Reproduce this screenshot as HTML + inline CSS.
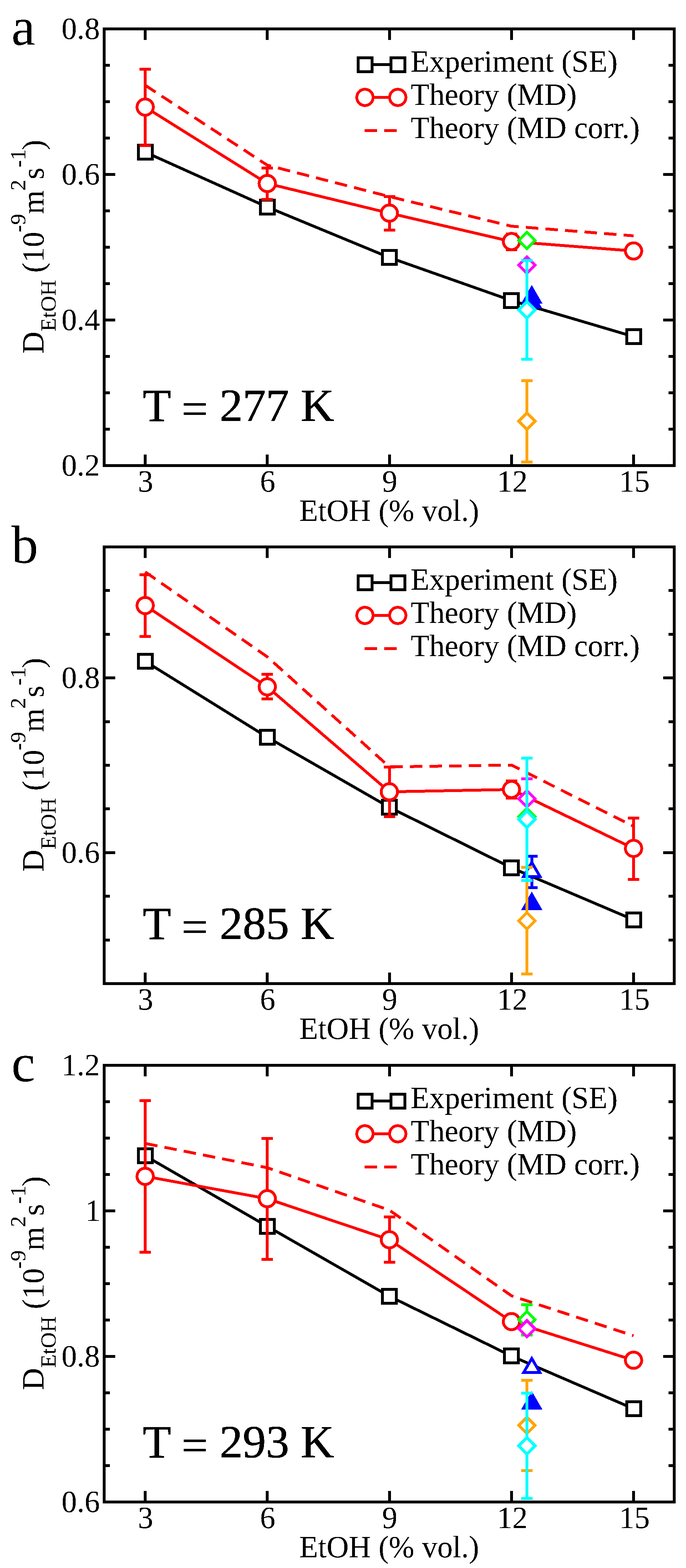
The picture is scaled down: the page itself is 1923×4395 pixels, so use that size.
<!DOCTYPE html>
<html><head><meta charset="utf-8"><title>EtOH diffusion</title>
<style>html,body{margin:0;padding:0;background:#fff;}svg{display:block;}</style>
</head><body>
<svg width="1923" height="4395" viewBox="0 0 1923 4395" font-family='"Liberation Serif", "DejaVu Serif", serif' shape-rendering="crispEdges">
<defs><filter id="bin" filterUnits="userSpaceOnUse" x="0" y="0" width="1923" height="4395"><feComponentTransfer><feFuncA type="discrete" tableValues="0 1"/></feComponentTransfer></filter></defs>
<rect width="1923" height="4395" fill="#fff"/>
<polyline points="407.0,426.4 749.2,580.3 1091.5,721.8 1433.8,842.4 1776.0,943.4" fill="none" stroke="#000" stroke-width="8" stroke-linejoin="round"/>
<rect x="387.5" y="406.9" width="39.0" height="39.0" fill="#fff" stroke="#000" stroke-width="8"/>
<rect x="729.8" y="560.8" width="39.0" height="39.0" fill="#fff" stroke="#000" stroke-width="8"/>
<rect x="1072.0" y="702.3" width="39.0" height="39.0" fill="#fff" stroke="#000" stroke-width="8"/>
<rect x="1414.2" y="822.9" width="39.0" height="39.0" fill="#fff" stroke="#000" stroke-width="8"/>
<rect x="1756.5" y="923.9" width="39.0" height="39.0" fill="#fff" stroke="#000" stroke-width="8"/>
<polyline points="407.0,239 749.2,463 1091.5,551 1433.8,634 1776.0,661" fill="none" stroke="#f00" stroke-width="8" stroke-dasharray="35 20"/>
<polyline points="407.0,300.2 749.2,514.3 1091.5,597.4 1433.8,677.0 1776.0,703.5" fill="none" stroke="#f00" stroke-width="8" stroke-linejoin="round"/>
<path d="M407.0 194.4V408.3M391.0 194.4h32.0M391.0 408.3h32.0" fill="none" stroke="#f00" stroke-width="8"/>
<path d="M749.2 471.0V559.0M733.2 471.0h32.0M733.2 559.0h32.0" fill="none" stroke="#f00" stroke-width="8"/>
<path d="M1091.5 551.0V644.5M1075.5 551.0h32.0M1075.5 644.5h32.0" fill="none" stroke="#f00" stroke-width="8"/>
<path d="M1433.8 656.0V700.0M1417.8 656.0h32.0M1417.8 700.0h32.0" fill="none" stroke="#f00" stroke-width="8"/>
<circle cx="407.0" cy="300.2" r="22.8" fill="#fff" stroke="#f00" stroke-width="8"/>
<circle cx="749.2" cy="514.3" r="22.8" fill="#fff" stroke="#f00" stroke-width="8"/>
<circle cx="1091.5" cy="597.4" r="22.8" fill="#fff" stroke="#f00" stroke-width="8"/>
<circle cx="1433.8" cy="677.0" r="22.8" fill="#fff" stroke="#f00" stroke-width="8"/>
<circle cx="1776.0" cy="703.5" r="22.8" fill="#fff" stroke="#f00" stroke-width="8"/>
<path d="M1490.7 806.9L1513.6 846.5L1467.8 846.5Z" fill="#0000ff" stroke="#0000ff" stroke-width="8" stroke-linejoin="miter"/>
<path d="M1490.7 821.6L1513.6 861.2L1467.8 861.2Z" fill="#0000ff" stroke="#0000ff" stroke-width="8" stroke-linejoin="miter"/>
<path d="M1477.0 650.9L1499.9 673.8L1477.0 696.7L1454.1 673.8Z" fill="#fff" stroke="#00ff00" stroke-width="8"/>
<path d="M1477.0 720.2L1499.9 743.1L1477.0 766.0L1454.1 743.1Z" fill="#fff" stroke="#ff00ff" stroke-width="8"/>
<path d="M1477.0 1067.0V1295.0M1461.0 1067.0h32.0M1461.0 1295.0h32.0" fill="none" stroke="#ffa500" stroke-width="8"/>
<path d="M1477.0 1157.6L1499.9 1180.5L1477.0 1203.4L1454.1 1180.5Z" fill="#fff" stroke="#ffa500" stroke-width="8"/>
<path d="M1477.0 730.0V1006.8M1461.0 730.0h32.0M1461.0 1006.8h32.0" fill="none" stroke="#00ffff" stroke-width="8"/>
<path d="M1477.0 845.6L1499.9 868.5L1477.0 891.4L1454.1 868.5Z" fill="#fff" stroke="#00ffff" stroke-width="8"/>
<path d="M292 1305.0h31M1890 1305.0h-31M292 897.0h31M1890 897.0h-31M292 489.0h31M1890 489.0h-31M292 81.0h31M1890 81.0h-31M292 1203.0h16M1890 1203.0h-16M292 1101.0h16M1890 1101.0h-16M292 999.0h16M1890 999.0h-16M292 795.0h16M1890 795.0h-16M292 693.0h16M1890 693.0h-16M292 591.0h16M1890 591.0h-16M292 387.0h16M1890 387.0h-16M292 285.0h16M1890 285.0h-16M292 183.0h16M1890 183.0h-16M407.0 1305v-31M407.0 81v31M749.2 1305v-31M749.2 81v31M1091.5 1305v-31M1091.5 81v31M1433.8 1305v-31M1433.8 81v31M1776.0 1305v-31M1776.0 81v31" stroke="#000" stroke-width="8" fill="none"/>
<rect x="292" y="81" width="1598" height="1224" fill="none" stroke="#000" stroke-width="8" stroke-linejoin="miter"/>
<path d="M1023 181H1115" stroke="#000" stroke-width="8"/>
<rect x="1003.5" y="161.5" width="39.0" height="39.0" fill="#fff" stroke="#000" stroke-width="8"/>
<rect x="1095.5" y="161.5" width="39.0" height="39.0" fill="#fff" stroke="#000" stroke-width="8"/>
<path d="M1023 273H1115" stroke="#f00" stroke-width="8"/>
<circle cx="1023.0" cy="273.0" r="22.8" fill="#fff" stroke="#f00" stroke-width="8"/>
<circle cx="1115.0" cy="273.0" r="22.8" fill="#fff" stroke="#f00" stroke-width="8"/>
<path d="M1022 366H1115" stroke="#f00" stroke-width="8" stroke-dasharray="35 20"/>
<polyline points="407.0,1853.6 749.2,2066.3 1091.5,2262.8 1433.8,2432.4 1776.0,2578.1" fill="none" stroke="#000" stroke-width="8" stroke-linejoin="round"/>
<rect x="387.5" y="1834.1" width="39.0" height="39.0" fill="#fff" stroke="#000" stroke-width="8"/>
<rect x="729.8" y="2046.8" width="39.0" height="39.0" fill="#fff" stroke="#000" stroke-width="8"/>
<rect x="1072.0" y="2243.3" width="39.0" height="39.0" fill="#fff" stroke="#000" stroke-width="8"/>
<rect x="1414.2" y="2412.9" width="39.0" height="39.0" fill="#fff" stroke="#000" stroke-width="8"/>
<rect x="1756.5" y="2558.6" width="39.0" height="39.0" fill="#fff" stroke="#000" stroke-width="8"/>
<polyline points="407.0,1603 749.2,1841 1091.5,2149.5 1433.8,2144.5 1776.0,2316" fill="none" stroke="#f00" stroke-width="8" stroke-dasharray="35 20"/>
<polyline points="407.0,1697.3 749.2,1925.1 1091.5,2219.4 1433.8,2212.9 1776.0,2378.0" fill="none" stroke="#f00" stroke-width="8" stroke-linejoin="round"/>
<path d="M407.0 1610.8V1783.8M391.0 1610.8h32.0M391.0 1783.8h32.0" fill="none" stroke="#f00" stroke-width="8"/>
<path d="M749.2 1889.9V1959.4M733.2 1889.9h32.0M733.2 1959.4h32.0" fill="none" stroke="#f00" stroke-width="8"/>
<path d="M1091.5 2149.8V2288.9M1075.5 2149.8h32.0M1075.5 2288.9h32.0" fill="none" stroke="#f00" stroke-width="8"/>
<path d="M1433.8 2189.0V2236.6M1417.8 2189.0h32.0M1417.8 2236.6h32.0" fill="none" stroke="#f00" stroke-width="8"/>
<path d="M1776.0 2292.5V2465.0M1760.0 2292.5h32.0M1760.0 2465.0h32.0" fill="none" stroke="#f00" stroke-width="8"/>
<circle cx="407.0" cy="1697.3" r="22.8" fill="#fff" stroke="#f00" stroke-width="8"/>
<circle cx="749.2" cy="1925.1" r="22.8" fill="#fff" stroke="#f00" stroke-width="8"/>
<circle cx="1091.5" cy="2219.4" r="22.8" fill="#fff" stroke="#f00" stroke-width="8"/>
<circle cx="1433.8" cy="2212.9" r="22.8" fill="#fff" stroke="#f00" stroke-width="8"/>
<circle cx="1776.0" cy="2378.0" r="22.8" fill="#fff" stroke="#f00" stroke-width="8"/>
<path d="M1490.7 2507.0L1513.6 2546.6L1467.8 2546.6Z" fill="#0000ff" stroke="#0000ff" stroke-width="8" stroke-linejoin="miter"/>
<path d="M1490.7 2399.9V2487.8M1474.7 2399.9h32.0M1474.7 2487.8h32.0" fill="none" stroke="#0000ff" stroke-width="8"/>
<path d="M1490.7 2417.1L1513.6 2456.7L1467.8 2456.7Z" fill="#fff" stroke="#0000ff" stroke-width="8" stroke-linejoin="miter"/>
<path d="M1477.0 2265.8L1499.9 2288.7L1477.0 2311.6L1454.1 2288.7Z" fill="#fff" stroke="#00ff00" stroke-width="8"/>
<path d="M1477.0 2183.0V2294.8M1461.0 2183.0h32.0M1461.0 2294.8h32.0" fill="none" stroke="#ff00ff" stroke-width="8"/>
<path d="M1477.0 2216.0L1499.9 2238.9L1477.0 2261.8L1454.1 2238.9Z" fill="#fff" stroke="#ff00ff" stroke-width="8"/>
<path d="M1477.0 2431.0V2729.8M1461.0 2431.0h32.0M1461.0 2729.8h32.0" fill="none" stroke="#ffa500" stroke-width="8"/>
<path d="M1477.0 2557.9L1499.9 2580.8L1477.0 2603.7L1454.1 2580.8Z" fill="#fff" stroke="#ffa500" stroke-width="8"/>
<path d="M1477.0 2124.9V2468.2M1461.0 2124.9h32.0M1461.0 2468.2h32.0" fill="none" stroke="#00ffff" stroke-width="8"/>
<path d="M1477.0 2273.6L1499.9 2296.5L1477.0 2319.4L1454.1 2296.5Z" fill="#fff" stroke="#00ffff" stroke-width="8"/>
<path d="M292 2389.8h31M1890 2389.8h-31M292 1900.2h31M1890 1900.2h-31M292 2634.6h16M1890 2634.6h-16M292 2512.2h16M1890 2512.2h-16M292 2267.4h16M1890 2267.4h-16M292 2145.0h16M1890 2145.0h-16M292 2022.6h16M1890 2022.6h-16M292 1777.8h16M1890 1777.8h-16M292 1655.4h16M1890 1655.4h-16M407.0 2757v-31M407.0 1533v31M749.2 2757v-31M749.2 1533v31M1091.5 2757v-31M1091.5 1533v31M1433.8 2757v-31M1433.8 1533v31M1776.0 2757v-31M1776.0 1533v31" stroke="#000" stroke-width="8" fill="none"/>
<rect x="292" y="1533" width="1598" height="1224" fill="none" stroke="#000" stroke-width="8" stroke-linejoin="miter"/>
<path d="M1023 1633H1115" stroke="#000" stroke-width="8"/>
<rect x="1003.5" y="1613.5" width="39.0" height="39.0" fill="#fff" stroke="#000" stroke-width="8"/>
<rect x="1095.5" y="1613.5" width="39.0" height="39.0" fill="#fff" stroke="#000" stroke-width="8"/>
<path d="M1023 1725H1115" stroke="#f00" stroke-width="8"/>
<circle cx="1023.0" cy="1725.0" r="22.8" fill="#fff" stroke="#f00" stroke-width="8"/>
<circle cx="1115.0" cy="1725.0" r="22.8" fill="#fff" stroke="#f00" stroke-width="8"/>
<path d="M1022 1818H1115" stroke="#f00" stroke-width="8" stroke-dasharray="35 20"/>
<polyline points="407.0,3239.7 749.2,3437.3 1091.5,3633.3 1433.8,3800.9 1776.0,3948.6" fill="none" stroke="#000" stroke-width="8" stroke-linejoin="round"/>
<rect x="387.5" y="3220.2" width="39.0" height="39.0" fill="#fff" stroke="#000" stroke-width="8"/>
<rect x="729.8" y="3417.8" width="39.0" height="39.0" fill="#fff" stroke="#000" stroke-width="8"/>
<rect x="1072.0" y="3613.8" width="39.0" height="39.0" fill="#fff" stroke="#000" stroke-width="8"/>
<rect x="1414.2" y="3781.4" width="39.0" height="39.0" fill="#fff" stroke="#000" stroke-width="8"/>
<rect x="1756.5" y="3929.1" width="39.0" height="39.0" fill="#fff" stroke="#000" stroke-width="8"/>
<polyline points="407.0,3205 749.2,3273 1091.5,3392 1433.8,3632 1776.0,3744" fill="none" stroke="#f00" stroke-width="8" stroke-dasharray="35 20"/>
<polyline points="407.0,3297.2 749.2,3359.8 1091.5,3474.9 1433.8,3704.3 1776.0,3812.6" fill="none" stroke="#f00" stroke-width="8" stroke-linejoin="round"/>
<path d="M407.0 3085.0V3510.0M391.0 3085.0h32.0M391.0 3510.0h32.0" fill="none" stroke="#f00" stroke-width="8"/>
<path d="M749.2 3191.0V3529.9M733.2 3191.0h32.0M733.2 3529.9h32.0" fill="none" stroke="#f00" stroke-width="8"/>
<path d="M1091.5 3410.8V3538.0M1075.5 3410.8h32.0M1075.5 3538.0h32.0" fill="none" stroke="#f00" stroke-width="8"/>
<circle cx="407.0" cy="3297.2" r="22.8" fill="#fff" stroke="#f00" stroke-width="8"/>
<circle cx="749.2" cy="3359.8" r="22.8" fill="#fff" stroke="#f00" stroke-width="8"/>
<circle cx="1091.5" cy="3474.9" r="22.8" fill="#fff" stroke="#f00" stroke-width="8"/>
<circle cx="1433.8" cy="3704.3" r="22.8" fill="#fff" stroke="#f00" stroke-width="8"/>
<circle cx="1776.0" cy="3812.6" r="22.8" fill="#fff" stroke="#f00" stroke-width="8"/>
<path d="M1490.7 3907.1L1513.6 3946.7L1467.8 3946.7Z" fill="#0000ff" stroke="#0000ff" stroke-width="8" stroke-linejoin="miter"/>
<path d="M1490.7 3807.7L1513.6 3847.3L1467.8 3847.3Z" fill="#fff" stroke="#0000ff" stroke-width="8" stroke-linejoin="miter"/>
<path d="M1477.0 3657.0V3742.0M1461.0 3657.0h32.0M1461.0 3742.0h32.0" fill="none" stroke="#00ff00" stroke-width="8"/>
<path d="M1477.0 3676.3L1499.9 3699.2L1477.0 3722.1L1454.1 3699.2Z" fill="#fff" stroke="#00ff00" stroke-width="8"/>
<path d="M1477.0 3701.5L1499.9 3724.4L1477.0 3747.3L1454.1 3724.4Z" fill="#fff" stroke="#ff00ff" stroke-width="8"/>
<path d="M1477.0 3868.6V4122.0M1461.0 3868.6h32.0M1461.0 4122.0h32.0" fill="none" stroke="#ffa500" stroke-width="8"/>
<path d="M1477.0 3972.5L1499.9 3995.4L1477.0 4018.3L1454.1 3995.4Z" fill="#fff" stroke="#ffa500" stroke-width="8"/>
<path d="M1477.0 3905.0V4199.8M1461.0 3905.0h32.0M1461.0 4199.8h32.0" fill="none" stroke="#00ffff" stroke-width="8"/>
<path d="M1477.0 4029.6L1499.9 4052.5L1477.0 4075.4L1454.1 4052.5Z" fill="#fff" stroke="#00ffff" stroke-width="8"/>
<path d="M292 4210.0h31M1890 4210.0h-31M292 3802.0h31M1890 3802.0h-31M292 3394.0h31M1890 3394.0h-31M292 2986.0h31M1890 2986.0h-31M292 4108.0h16M1890 4108.0h-16M292 4006.0h16M1890 4006.0h-16M292 3904.0h16M1890 3904.0h-16M292 3700.0h16M1890 3700.0h-16M292 3598.0h16M1890 3598.0h-16M292 3496.0h16M1890 3496.0h-16M292 3292.0h16M1890 3292.0h-16M292 3190.0h16M1890 3190.0h-16M292 3088.0h16M1890 3088.0h-16M407.0 4210v-31M407.0 2986v31M749.2 4210v-31M749.2 2986v31M1091.5 4210v-31M1091.5 2986v31M1433.8 4210v-31M1433.8 2986v31M1776.0 4210v-31M1776.0 2986v31" stroke="#000" stroke-width="8" fill="none"/>
<rect x="292" y="2986" width="1598" height="1224" fill="none" stroke="#000" stroke-width="8" stroke-linejoin="miter"/>
<path d="M1023 3086H1115" stroke="#000" stroke-width="8"/>
<rect x="1003.5" y="3066.5" width="39.0" height="39.0" fill="#fff" stroke="#000" stroke-width="8"/>
<rect x="1095.5" y="3066.5" width="39.0" height="39.0" fill="#fff" stroke="#000" stroke-width="8"/>
<path d="M1023 3178H1115" stroke="#f00" stroke-width="8"/>
<circle cx="1023.0" cy="3178.0" r="22.8" fill="#fff" stroke="#f00" stroke-width="8"/>
<circle cx="1115.0" cy="3178.0" r="22.8" fill="#fff" stroke="#f00" stroke-width="8"/>
<path d="M1022 3271H1115" stroke="#f00" stroke-width="8" stroke-dasharray="35 20"/>
<g filter="url(#bin)" stroke="#000" stroke-width="0">
<text x="280" y="1333.0" font-size="86" text-anchor="end">0.2</text>
<text x="280" y="925.0" font-size="86" text-anchor="end">0.4</text>
<text x="280" y="517.0" font-size="86" text-anchor="end">0.6</text>
<text x="280" y="109.0" font-size="86" text-anchor="end">0.8</text>
<text x="408.0" y="1378" font-size="86" text-anchor="middle">3</text>
<text x="750.2" y="1378" font-size="86" text-anchor="middle">6</text>
<text x="1092.5" y="1378" font-size="86" text-anchor="middle">9</text>
<text x="1436.2" y="1378" font-size="86" text-anchor="middle">12</text>
<text x="1778.5" y="1378" font-size="86" text-anchor="middle">15</text>
<text x="1091" y="1460" font-size="86" text-anchor="middle">EtOH (% vol.)</text>
<g transform="translate(121.7 989) rotate(-90)" font-size="86"><text x="-2.5" y="0">D</text><text x="60" y="34.3" font-size="62">EtOH</text><text x="224.6" y="0">(10</text><text x="338" y="-51" font-size="62">-9</text><text x="388.7" y="0">m</text><text x="454.5" y="-51" font-size="62">2</text><text x="486" y="0">s</text><text x="519.2" y="-51" font-size="62">-1</text><text x="568.6" y="0">)</text></g>
<text x="32" y="126" font-size="150" stroke-width="0">a</text>
<text x="400" y="1179.5" font-size="130" stroke-width="1.2">T <tspan dy="10">=</tspan><tspan dy="-10"> 277 K</tspan></text>
<text x="1151" y="201" font-size="86">Experiment (SE)</text>
<text x="1151" y="294" font-size="86">Theory (MD)</text>
<text x="1151" y="387" font-size="86">Theory (MD corr.)</text>
<text x="280" y="2417.8" font-size="86" text-anchor="end">0.6</text>
<text x="280" y="1928.2" font-size="86" text-anchor="end">0.8</text>
<text x="408.0" y="2830" font-size="86" text-anchor="middle">3</text>
<text x="750.2" y="2830" font-size="86" text-anchor="middle">6</text>
<text x="1092.5" y="2830" font-size="86" text-anchor="middle">9</text>
<text x="1436.2" y="2830" font-size="86" text-anchor="middle">12</text>
<text x="1778.5" y="2830" font-size="86" text-anchor="middle">15</text>
<text x="1091" y="2912" font-size="86" text-anchor="middle">EtOH (% vol.)</text>
<g transform="translate(121.7 2441) rotate(-90)" font-size="86"><text x="-2.5" y="0">D</text><text x="60" y="34.3" font-size="62">EtOH</text><text x="224.6" y="0">(10</text><text x="338" y="-51" font-size="62">-9</text><text x="388.7" y="0">m</text><text x="454.5" y="-51" font-size="62">2</text><text x="486" y="0">s</text><text x="519.2" y="-51" font-size="62">-1</text><text x="568.6" y="0">)</text></g>
<text x="32" y="1578" font-size="150" stroke-width="0">b</text>
<text x="400" y="2631.5" font-size="130" stroke-width="1.2">T <tspan dy="10">=</tspan><tspan dy="-10"> 285 K</tspan></text>
<text x="1151" y="1653" font-size="86">Experiment (SE)</text>
<text x="1151" y="1746" font-size="86">Theory (MD)</text>
<text x="1151" y="1839" font-size="86">Theory (MD corr.)</text>
<text x="280" y="4238.0" font-size="86" text-anchor="end">0.6</text>
<text x="280" y="3830.0" font-size="86" text-anchor="end">0.8</text>
<text x="282" y="3422.0" font-size="86" text-anchor="end">1</text>
<text x="280" y="3014.0" font-size="86" text-anchor="end">1.2</text>
<text x="408.0" y="4283" font-size="86" text-anchor="middle">3</text>
<text x="750.2" y="4283" font-size="86" text-anchor="middle">6</text>
<text x="1092.5" y="4283" font-size="86" text-anchor="middle">9</text>
<text x="1436.2" y="4283" font-size="86" text-anchor="middle">12</text>
<text x="1778.5" y="4283" font-size="86" text-anchor="middle">15</text>
<text x="1091" y="4365" font-size="86" text-anchor="middle">EtOH (% vol.)</text>
<g transform="translate(121.7 3894) rotate(-90)" font-size="86"><text x="-2.5" y="0">D</text><text x="60" y="34.3" font-size="62">EtOH</text><text x="224.6" y="0">(10</text><text x="338" y="-51" font-size="62">-9</text><text x="388.7" y="0">m</text><text x="454.5" y="-51" font-size="62">2</text><text x="486" y="0">s</text><text x="519.2" y="-51" font-size="62">-1</text><text x="568.6" y="0">)</text></g>
<text x="32" y="3031" font-size="150" stroke-width="0">c</text>
<text x="400" y="4084.5" font-size="130" stroke-width="1.2">T <tspan dy="10">=</tspan><tspan dy="-10"> 293 K</tspan></text>
<text x="1151" y="3106" font-size="86">Experiment (SE)</text>
<text x="1151" y="3199" font-size="86">Theory (MD)</text>
<text x="1151" y="3292" font-size="86">Theory (MD corr.)</text>
</g>
</svg>
</body></html>
